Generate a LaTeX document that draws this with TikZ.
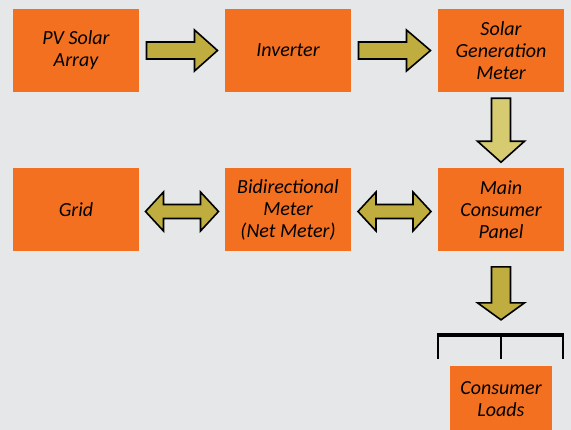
\documentclass[tikz,border=0pt]{standalone}
\usepackage{fontspec}
\setmainfont{Carlito}
\usetikzlibrary{calc}

\definecolor{bggray}{HTML}{E5E7E9}
\definecolor{boxorange}{HTML}{F37021}
\definecolor{arrowolive}{HTML}{BFAD3F}
\definecolor{arrowpale}{HTML}{D6CB71}

\tikzset{
  box/.style={fill=boxorange, draw=none, minimum width=126, minimum height=83,
    align=center, font=\fontsize{20}{22}\selectfont\itshape, text=black, inner sep=0pt},
  blockarrow/.style={draw=black, line width=1.6pt, line join=miter, fill=arrowolive},
}

% single block arrow pointing along +x before rotation:
% #1 centre, #2 rotation, #3 length, #4 head length, #5 shaft half width, #6 head half width, #7 style
\newcommand{\singleblock}[7]{%
  \begin{scope}[shift={#1}, rotate=#2]
    \draw[blockarrow,#7] (-#3/2,-#5) -- (#3/2-#4,-#5) -- (#3/2-#4,-#6) -- (#3/2,0)
      -- (#3/2-#4,#6) -- (#3/2-#4,#5) -- (-#3/2,#5) -- cycle;
  \end{scope}}

% double block arrow along x: #1 centre, #2 length, #3 head length, #4 shaft half, #5 head half
\newcommand{\doubleblock}[5]{%
  \begin{scope}[shift={#1}]
    \draw[blockarrow] (-#2/2,0) -- (-#2/2+#3,-#5) -- (-#2/2+#3,-#4) -- (#2/2-#3,-#4)
      -- (#2/2-#3,-#5) -- (#2/2,0) -- (#2/2-#3,#5) -- (#2/2-#3,#4) -- (-#2/2+#3,#4)
      -- (-#2/2+#3,#5) -- cycle;
  \end{scope}}

\begin{document}
\begin{tikzpicture}[x=1pt, y=-1pt]
  \fill[bggray] (0,0) rectangle (571,430);
  \useasboundingbox (0,0) rectangle (571,430);

  % top row
  \node[box] (pv)  at (76,50.5)  {PV Solar\\Array};
  \node[box] (inv) at (288,50.5) {Inverter};
  \node[box] (sgm) at (501,50.5) {Solar\\Generation\\Meter};

  % middle row
  \node[box] (grid) at (76,210)  {Grid};
  \node[box] (net)  at (288,210) {Bidirectional\\Meter\\(Net Meter)};
  \node[box] (mcp)  at (501,210) {Main\\Consumer\\Panel};

  % load bus
  \coordinate (busl) at (438,335);
  \coordinate (busm) at (501,335);
  \coordinate (busr) at (563,335);
  \draw[line width=2.3pt] (busl) -- ++(0,24);
  \draw[line width=2.3pt] (busm) -- ++(0,24);
  \draw[line width=2.3pt] (busr) -- ++(0,24);
  \draw[line width=4.5pt] ([xshift=-1.1pt]busl) -- ([xshift=1.1pt]busr);

  \node[box, minimum width=102, minimum height=66] (loads) at (501,399) {Consumer\\Loads};

  % flow arrows
  \singleblock{($(pv.east)!0.5!(inv.west)$)}{0}{71}{23}{8.5}{20.5}{}
  \singleblock{($(inv.east)!0.5!(sgm.west)$)}{0}{72}{24}{8.5}{20.5}{}
  \singleblock{($(sgm.south)!0.5!(mcp.north)$)}{-90}{64}{21}{9.5}{23.5}{fill=arrowpale}
  \singleblock{($(mcp.south)!0.5!(busm)$)}{-90}{53}{17}{9.5}{23.5}{}
  \doubleblock{($(grid.east)!0.5!(net.west)+(0,1.5)$)}{73}{18}{7}{19.5}
  \doubleblock{($(net.east)!0.5!(mcp.west)+(0,1.5)$)}{73}{18}{7}{19.5}
\end{tikzpicture}
\end{document}
